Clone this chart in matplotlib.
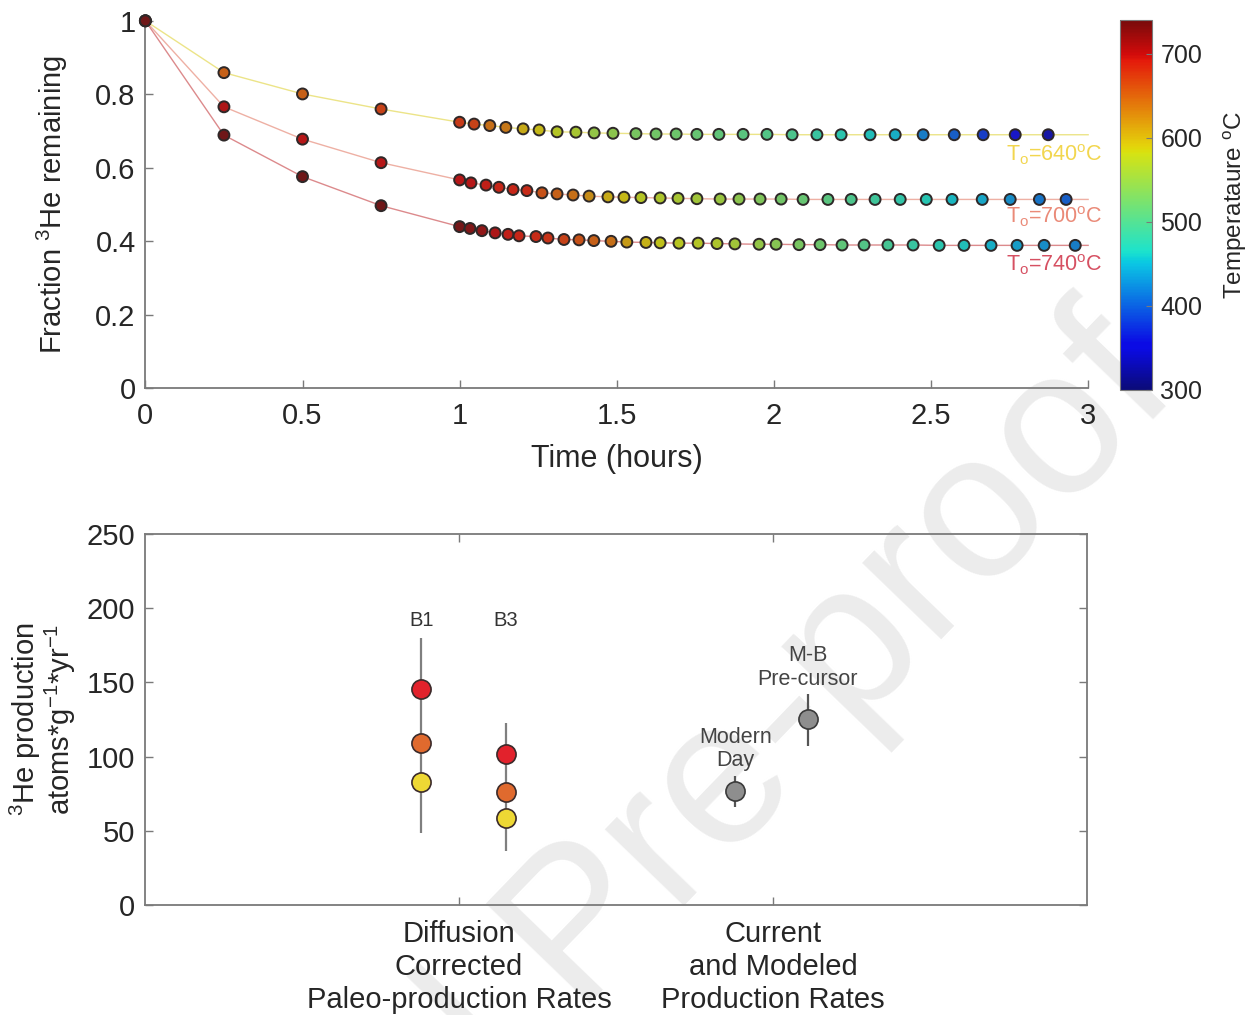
import numpy as np
import matplotlib.pyplot as plt
from matplotlib import cm, colors

plt.rcParams['font.family'] = ['Liberation Sans', 'DejaVu Sans']
plt.rcParams['mathtext.fontset'] = 'custom'
plt.rcParams['mathtext.rm'] = 'Liberation Sans'
plt.rcParams['mathtext.it'] = 'Liberation Sans:italic'
plt.rcParams['mathtext.bf'] = 'Liberation Sans:bold'

# ---- Daten oben: Anteil 3He über die Zeit ----
t_640 = [0, 0.25, 0.5, 0.75,
         1.0, 1.046, 1.096, 1.147, 1.202, 1.253, 1.310, 1.370, 1.428, 1.488, 1.561, 1.625, 1.689, 1.755,
         1.825, 1.902, 1.978, 2.058, 2.137, 2.214, 2.306, 2.386, 2.475, 2.574, 2.666, 2.768, 2.873]
f_640 = [1.0, 0.859, 0.801, 0.760,
         0.724, 0.719, 0.715, 0.710, 0.706, 0.703, 0.698, 0.697, 0.695, 0.694, 0.693, 0.692, 0.692, 0.691,
         0.691, 0.691, 0.691, 0.690, 0.690, 0.690, 0.690, 0.690, 0.690, 0.690, 0.690, 0.690, 0.690]
T_640 = [740, 650, 650, 670,
         675, 670, 640, 635, 600, 590, 575, 565, 550, 545, 530, 525, 520, 515,
         510, 505, 500, 495, 480, 470, 460, 450, 420, 400, 380, 350, 330]

t_700 = [0, 0.25, 0.5, 0.75,
         1.0, 1.036, 1.084, 1.125, 1.170, 1.214, 1.262, 1.310, 1.361, 1.412, 1.472, 1.523, 1.577, 1.638,
         1.695, 1.755, 1.829, 1.889, 1.956, 2.023, 2.093, 2.172, 2.246, 2.322, 2.402, 2.485, 2.567, 2.663,
         2.752, 2.845, 2.930]
f_700 = [1.0, 0.766, 0.678, 0.614,
         0.567, 0.559, 0.553, 0.547, 0.541, 0.538, 0.532, 0.529, 0.526, 0.523, 0.521, 0.520, 0.519, 0.518,
         0.517, 0.516, 0.515, 0.515, 0.515, 0.515, 0.514, 0.514, 0.514, 0.514, 0.514, 0.514, 0.514, 0.514,
         0.514, 0.514, 0.514]
T_700 = [740, 705, 700, 700,
         700, 700, 695, 690, 690, 685, 660, 650, 640, 620, 600, 590, 575, 570,
         565, 560, 555, 545, 535, 525, 515, 505, 495, 485, 475, 465, 455, 445,
         430, 415, 400]

t_740 = [0, 0.25, 0.5, 0.75,
         1.0, 1.033, 1.071, 1.113, 1.154, 1.189, 1.243, 1.281, 1.332, 1.380, 1.427, 1.482, 1.532, 1.593,
         1.638, 1.698, 1.759, 1.819, 1.876, 1.953, 2.007, 2.080, 2.147, 2.217, 2.287, 2.363, 2.443, 2.526,
         2.605, 2.691, 2.774, 2.860, 2.959]
f_740 = [1.0, 0.689, 0.576, 0.497,
         0.440, 0.435, 0.429, 0.423, 0.419, 0.415, 0.413, 0.409, 0.405, 0.404, 0.402, 0.400, 0.398, 0.397,
         0.396, 0.395, 0.395, 0.394, 0.393, 0.392, 0.392, 0.391, 0.391, 0.390, 0.390, 0.390, 0.390, 0.389,
         0.389, 0.389, 0.389, 0.389, 0.389]
T_740 = [740, 740, 740, 740,
         735, 730, 720, 705, 695, 690, 685, 680, 670, 660, 650, 640, 610, 595,
         585, 580, 575, 570, 560, 550, 540, 530, 520, 510, 500, 490, 480, 470,
         460, 450, 440, 430, 420]

kurven = [(t_640, f_640, T_640, '#ece488', '#f2d64e', 'T$_{\\rm o}$=640$^{\\rm o}$C', 0.635),
          (t_700, f_700, T_700, '#eeb0a4', '#ea8a78', 'T$_{\\rm o}$=700$^{\\rm o}$C', 0.466),
          (t_740, f_740, T_740, '#dc8a8c', '#d65062', 'T$_{\\rm o}$=740$^{\\rm o}$C', 0.336)]

# ---- Daten unten: 3He Produktionsraten ----
pos_B = [0.88, 1.15]
B_labels = ['B1', 'B3']
B_high = [145.3, 101.5]
B_mid = [109.0, 76.3]
B_low = [83.1, 58.4]
B_err_top = [179.7, 122.8]
B_err_bot = [48.7, 36.6]

pos_M = [1.88, 2.11]
M_labels = ['Modern\nDay', 'M-B\nPre-cursor']
M_val = [76.8, 125.1]
M_err_top = [87.1, 142.2]
M_err_bot = [66.2, 107.3]

kat_ticks = [1, 2]
kat_labels = ['Diffusion\nCorrected\nPaleo-production Rates', 'Current\nand Modeled\nProduction Rates']

achse = '#7a7a7a'
text_c = '#262626'
norm = colors.Normalize(vmin=300, vmax=740)
jet = plt.get_cmap('jet')

# jet etwas matter machen (Farbskala leicht, Punkte stärker)
werte = jet(np.linspace(0, 1, 256))
grau = np.array([0.30, 0.28, 0.30, 1.0])
cmap_bar = colors.ListedColormap(0.85 * werte + 0.15 * grau)
cmap_pkt = colors.ListedColormap(0.68 * werte + 0.32 * grau)

fig = plt.figure(figsize=(12.5, 10.15), dpi=100)

# Wasserzeichen
fig.text(0.945, 0.615, 'Journal Pre-proof', fontsize=150, color='#ececec', rotation=46,
         rotation_mode='anchor', ha='right', va='baseline', zorder=-1)

# ---------------- oberer Plot ----------------
ax1 = fig.add_axes([0.1163, 0.6174, 0.7542, 0.3621])
ax1.set_facecolor('none')
for t, f, T, lc, tc, lab, ypos in kurven:
    ax1.plot(list(t) + [3.0], list(f) + [f[-1]], color=lc, lw=1.0, zorder=2, clip_on=False)
    ax1.scatter(t, f, s=62, c=T, cmap=cmap_pkt, norm=norm, edgecolors='#2e2828', linewidths=1.4,
                zorder=3, clip_on=False)
    ax1.text(3.045, ypos, lab, color=tc, fontsize=15.5, ha='right', va='center', clip_on=False)

ax1.set_xlim(0, 3)
ax1.set_ylim(0, 1)
ax1.set_xticks([0, 0.5, 1, 1.5, 2, 2.5, 3])
ax1.set_xticklabels(['0', '0.5', '1', '1.5', '2', '2.5', '3'])
ax1.set_yticks([0, 0.2, 0.4, 0.6, 0.8, 1])
ax1.set_yticklabels(['0', '0.2', '0.4', '0.6', '0.8', '1'])
ax1.spines['top'].set_visible(False)
ax1.spines['right'].set_visible(False)
for s in ['left', 'bottom']:
    ax1.spines[s].set_color(achse)
    ax1.spines[s].set_linewidth(1.3)
ax1.tick_params(direction='in', length=6, width=1, color=achse, labelsize=21, labelcolor=text_c, pad=7)
ax1.tick_params(axis='x', pad=10)
ax1.set_xlabel('Time (hours)', fontsize=22, color=text_c, labelpad=10)
ax1.set_ylabel('Fraction $^3$He remaining', fontsize=21, color=text_c, labelpad=18)

# Farbskala
cax = fig.add_axes([0.896, 0.6158, 0.0256, 0.3645])
sm = cm.ScalarMappable(norm=norm, cmap=cmap_bar)
cb = fig.colorbar(sm, cax=cax, ticks=[300, 400, 500, 600, 700])
cb.outline.set_edgecolor(achse)
cb.ax.tick_params(direction='in', length=4, color=achse, labelsize=18, labelcolor=text_c, pad=6)
cb.set_label('Temperataure $^{\\rm o}$C', fontsize=17.5, color=text_c, labelpad=14)

# ---------------- unterer Plot ----------------
ax2 = fig.add_axes([0.116, 0.1084, 0.7536, 0.3655])
ax2.set_facecolor('none')

ax2.vlines(pos_B, B_err_bot, B_err_top, color='#7f7f7f', lw=1.6, zorder=2)
ax2.vlines(pos_M, M_err_bot, M_err_top, color='#555555', lw=1.6, zorder=2)
ax2.scatter(pos_B, B_high, s=190, c='#e2222c', edgecolors='#3a2a2a', linewidths=1.2, zorder=3)
ax2.scatter(pos_B, B_mid, s=190, c='#e06a2e', edgecolors='#3a2a2a', linewidths=1.2, zorder=3)
ax2.scatter(pos_B, B_low, s=190, c='#eed834', edgecolors='#3a2a2a', linewidths=1.2, zorder=3)
ax2.scatter(pos_M, M_val, s=190, c='#8e8e8e', edgecolors='#3a3a3a', linewidths=1.2, zorder=3)

for x, lab in zip(pos_B, B_labels):
    ax2.text(x, 192, lab, fontsize=14.5, color='#333333', ha='center', va='center')
for x, top, lab in zip(pos_M, M_err_top, M_labels):
    ax2.text(x, top + 3, lab, fontsize=15.5, color='#444444', ha='center', va='bottom', linespacing=1.15)

ax2.set_xlim(0, 3)
ax2.set_ylim(0, 250)
ax2.set_xticks(kat_ticks)
ax2.set_xticklabels(kat_labels, fontsize=19.5, color=text_c, linespacing=1.22)
ax2.set_yticks([0, 50, 100, 150, 200, 250])
for s in ax2.spines.values():
    s.set_color(achse)
    s.set_linewidth(1.3)
ax2.tick_params(direction='in', length=6, width=1, color=achse, top=True, right=True, labelsize=21,
                labelcolor=text_c, pad=7)
ax2.tick_params(axis='x', pad=11)
ax2.set_ylabel('$^3$He production\natoms*g$^{-1}$*yr$^{-1}$', fontsize=21, color=text_c,
               labelpad=6, linespacing=1.0)

plt.savefig('out.png', dpi=100)
